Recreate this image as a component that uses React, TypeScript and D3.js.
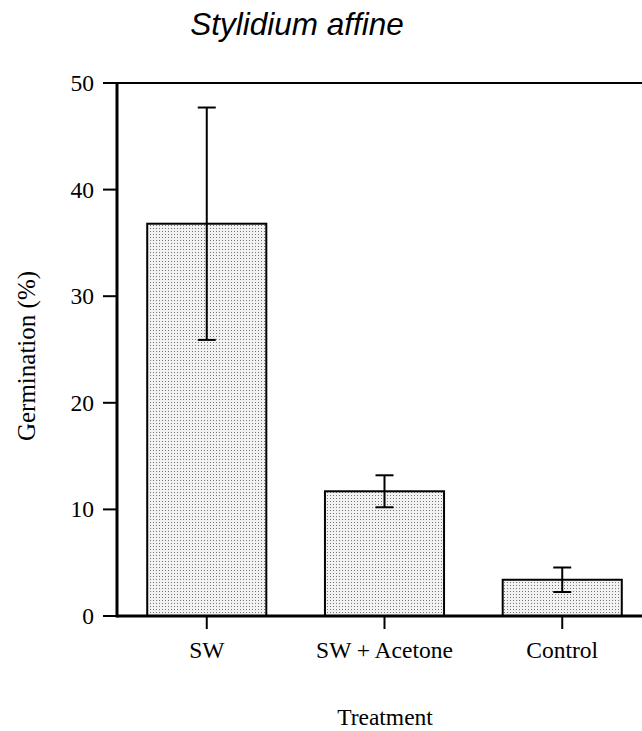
import React from "react";
import * as d3 from "d3";

const categories = ["SW", "SW + Acetone", "Control"];
const means = [36.8, 11.7, 3.4];
const errors = [10.9, 1.5, 1.15];
const yTicks = [0, 10, 20, 30, 40, 50];

export default function App() {
  const W = 642, H = 731;
  const left = 117, right = 652, top = 83, bottom = 616;
  const y = d3.scaleLinear().domain([0, 50]).range([bottom, top]);
  const x = d3.scaleBand<string>().domain(categories).range([left, right]).paddingInner(0.33).paddingOuter(0.17);
  const bw = x.bandwidth();
  const serif = "'Liberation Serif', 'Times New Roman', serif";
  const fs = 23.5;
  return (
    <svg width={W} height={H} style={{ position: "absolute", left: 0, top: 0, background: "#fff" }}>
      <defs>
        <pattern id="dots" width="3" height="3" patternUnits="userSpaceOnUse">
          <rect width="3" height="3" fill="#f2f2f2" />
          <rect x="0" y="0" width="1" height="1" fill="#777" />
        </pattern>
      </defs>
      <text x={297} y={35} textAnchor="middle" fontFamily="'Liberation Sans', Arial, sans-serif" fontStyle="italic" fontSize={31.5}>Stylidium affine</text>
      {categories.map((c, i) => (
        <rect key={c} x={x(c)!} y={y(means[i])} width={bw} height={bottom - y(means[i])}
          fill="url(#dots)" stroke="#000" strokeWidth={2} />
      ))}
      {categories.map((c, i) => {
        const cx = x(c)! + bw / 2;
        const hi = y(means[i] + errors[i]);
        const lo = y(means[i] - errors[i]);
        return (
          <g key={"e" + c} stroke="#000" strokeWidth={2}>
            <line x1={cx} x2={cx} y1={hi} y2={lo} />
            <line x1={cx - 9} x2={cx + 9} y1={hi} y2={hi} />
            <line x1={cx - 9} x2={cx + 9} y1={lo} y2={lo} />
          </g>
        );
      })}
      <line x1={left} x2={W} y1={top} y2={top} stroke="#000" strokeWidth={2} />
      <line x1={left} x2={left} y1={top - 1} y2={bottom + 1.5} stroke="#000" strokeWidth={3} />
      <line x1={left} x2={W} y1={bottom} y2={bottom} stroke="#000" strokeWidth={3} />
      {yTicks.map((t) => (
        <g key={t}>
          <line x1={103} x2={left} y1={y(t)} y2={y(t)} stroke="#000" strokeWidth={2} />
          <text x={94} y={y(t)} dy="0.34em" textAnchor="end" fontFamily={serif} fontSize={fs}>{t}</text>
        </g>
      ))}
      {categories.map((c) => {
        const cx = x(c)! + bw / 2;
        return (
          <g key={"x" + c}>
            <line x1={cx} x2={cx} y1={bottom} y2={bottom + 13} stroke="#000" strokeWidth={2} />
            <text x={cx} y={658} textAnchor="middle" fontFamily={serif} fontSize={fs}>{c}</text>
          </g>
        );
      })}
      <text x={385} y={725} textAnchor="middle" fontFamily={serif} fontSize={fs}>Treatment</text>
      <text transform={`translate(35, 356) rotate(-90)`} textAnchor="middle" fontFamily={serif} fontSize={25}>Germination (%)</text>
    </svg>
  );
}
